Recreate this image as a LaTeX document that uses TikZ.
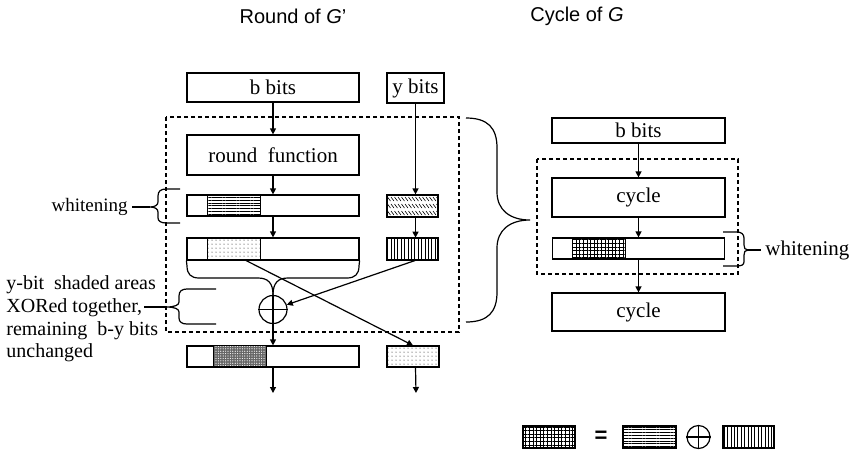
\documentclass[tikz,border=0pt]{standalone}
\usepackage{fontspec}
\setmainfont{Liberation Serif}
\setsansfont{Liberation Sans}
\usetikzlibrary{arrows.meta,patterns.meta}
\tikzset{
  bitbox/.style={draw, line width=0.6pt, inner sep=0pt, font=\fontsize{10.5}{12}\selectfont},
  flow/.style={line width=0.6pt, -{Triangle[length=3pt,width=3pt]}},
  shade/.style={draw, line width=0.5pt},
  frame/.style={line width=0.6pt, dash pattern=on 2pt off 1.5pt},
  title/.style={font=\sffamily\fontsize{10}{12}\selectfont},
  xorsign/.style={circle, draw, line width=0.6pt, inner sep=0pt},
}
\begin{document}
\begin{tikzpicture}[x=0.5pt,y=-0.5pt]
\useasboundingbox (0,0) rectangle (851,452);

\node[title] (ttl1) at (293,16) {Round of \textit{G}’};
\node[title] (ttl2) at (577,16) {Cycle of \textit{G}};

% round of G'
\node[bitbox, minimum width=86pt, minimum height=14.5pt] (bb) at (273,87.5) {b bits};
\node[bitbox, minimum width=28.5pt, minimum height=15pt] (yb) at (415.5,88) {y bits};
\node[bitbox, minimum width=86pt, minimum height=20pt] (rf) at (273,155) {round\ \ function};
\node[bitbox, minimum width=86pt, minimum height=10.5pt] (w1) at (273,205.5) {};
\node[bitbox, minimum width=25.5pt, minimum height=11pt] (hb) at (412.5,206) {};
\node[bitbox, minimum width=86pt, minimum height=11pt] (w2) at (273,249) {};
\node[bitbox, pattern={Lines[angle=90,distance=1.7pt,line width=0.35pt]}, minimum width=25.5pt, minimum height=11pt] (vb) at (412.5,249) {};
\node[xorsign, minimum size=14pt] (xor) at (273,309.5) {};
\node[bitbox, minimum width=86pt, minimum height=10.5pt] (out1) at (273,356.5) {};
\node[bitbox, pattern={Dots[distance=2pt,radius=0.25pt]}, minimum width=26pt, minimum height=10.5pt] (out2) at (413,356.5) {};
\coordinate (e1) at (273,393);
\coordinate (e2) at (416,393);
\coordinate (dsrc) at (245,260);

\draw[shade, pattern={Lines[angle=0,distance=1.4pt,line width=0.3pt]}] (w1.north west) ++(21,0) rectangle ++(53,21);
\draw[shade, pattern={Dots[distance=2pt,radius=0.25pt]}] (w2.north west) ++(21,0) rectangle ++(53,22);
\fill[black!60] (out1.north west) ++(27,0) rectangle ++(53,21);
\draw[shade, pattern={Dots[distance=1.2pt,radius=0.3pt]}, pattern color=white] (out1.north west) ++(27,0) rectangle ++(53,21);
\begin{scope}
  \clip (hb.south west) rectangle (hb.north east);
  \foreach \r in {199,206,213}
    \foreach \c in {384,387.5,...,440}
      \draw[line width=0.3pt] (\c,\r-2) -- (\c+3,\r+2);
\end{scope}
\draw[line width=0.6pt] (xor.north) -- (xor.south) (xor.west) -- (xor.east);

\draw[frame] (166,117) rectangle (459,332);

\draw[flow] (bb) -- (rf);
\draw[flow] (rf) -- (w1);
\draw[flow] (w1) -- (w2);
\draw[flow] (yb.south) -- (yb.south |- hb.north);
\draw[flow] (yb.south |- hb.south) -- (yb.south |- vb.north);
\draw[line width=0.6pt] (w2.south west) -- (187,266) .. controls (187,274) and (191,278) .. (199,278) -- (258,278) .. controls (268,278) and (273,283) .. (xor.north);
\draw[line width=0.6pt] (w2.south east) -- (359,266) .. controls (359,274) and (355,278) .. (347,278) -- (288,278) .. controls (278,278) and (273,283) .. (xor.north);
\draw[flow] (yb.south |- vb.south) -- (xor);
\draw[flow] (dsrc) -- (out2.north);
\draw[flow] (xor) -- (out1);
\draw[flow] (out1) -- (e1);
\draw[flow] (yb.south |- out2.south) -- (e2);

% left labels
\node[anchor=east, inner sep=2pt, font=\fontsize{9.5}{11}\selectfont] (lw) at (132,207) {whitening};
\coordinate (lwt) at (150,207);
\draw[line width=0.6pt] (180,189) -- (166,189) .. controls (161,189) and (158,191) .. (158,196) -- (158,202) .. controls (158,205) and (155,207) .. (lwt) .. controls (155,207) and (158,209) .. (158,212) -- (158,218) .. controls (158,221) and (161,223) .. (166,223) -- (180,223);
\draw[line width=0.6pt] (lw) -- (lwt);

\node[anchor=west, align=left, inner sep=0pt, font=\fontsize{10}{11.3}\selectfont] (lx) at (6,319) {y-bit\ \ shaded areas\\XORed together,\\remaining\ \ b-y bits\\unchanged};
\coordinate (xs) at (144,307);
\coordinate (xt) at (166,307);
\draw[line width=0.6pt] (216,289) -- (187,289) .. controls (182,289) and (179,291) .. (179,296) -- (179,302) .. controls (179,305) and (175,307) .. (xt) .. controls (175,307) and (179,309) .. (179,312) -- (179,318) .. controls (179,322) and (182,324) .. (187,324) -- (216,324);
\draw[line width=0.6pt] (xs) -- (xt);

% big brace
\draw[line width=0.6pt] (466,118) .. controls (488,118) and (497,128) .. (497,148) -- (497,192) .. controls (497,210) and (510,220) .. (530,220) .. controls (510,220) and (497,230) .. (497,248) -- (497,292) .. controls (497,312) and (488,322) .. (466,322);

% cycle of G
\node[bitbox, minimum width=86.5pt, minimum height=12.5pt] (cb) at (638.5,130.5) {b bits};
\node[bitbox, minimum width=86.5pt, minimum height=19.5pt] (cy1) at (638.5,197.5) {cycle};
\node[bitbox, minimum width=86pt, minimum height=10.5pt] (cw) at (638.5,248.5) {};
\node[bitbox, minimum width=86.5pt, minimum height=19pt] (cy2) at (638.5,312) {cycle};
\draw[shade, pattern={Hatch[distance=1.8pt,line width=0.3pt]}] (cw.north west) ++(21,0) rectangle ++(53,21);
\draw[frame] (537,159) rectangle (738,274);
\draw[flow] (cb) -- (cy1);
\draw[flow] (cy1) -- (cw);
\draw[flow] (cw) -- (cy2);

\node[anchor=west, inner sep=2pt, font=\fontsize{10.5}{12}\selectfont] (rw) at (761,250) {whitening};
\coordinate (rwt) at (748,250);
\draw[line width=0.6pt] (723,232) -- (737,232) .. controls (741,232) and (744,234) .. (744,238) -- (744,245) .. controls (744,248) and (745,250) .. (rwt) .. controls (745,250) and (744,252) .. (744,255) -- (744,262) .. controls (744,265) and (741,266) .. (737,266) -- (723,266);
\draw[line width=0.6pt] (rwt) -- (rw);

% legend
\node[bitbox, pattern={Hatch[distance=1.8pt,line width=0.3pt]}, minimum width=26pt, minimum height=11pt] (lg1) at (549,437) {};
\node[font=\sffamily\bfseries\fontsize{11}{12}\selectfont] (lgeq) at (601,437) {=};
\node[bitbox, pattern={Lines[angle=0,distance=1.4pt,line width=0.3pt]}, minimum width=26.5pt, minimum height=11pt] (lg2) at (649.5,437) {};
\node[xorsign, minimum size=11.5pt] (lgx) at (698.5,437) {};
\draw[line width=0.6pt] (lgx.north) -- (lgx.south) (lgx.west) -- (lgx.east);
\node[bitbox, pattern={Lines[angle=90,distance=1.7pt,line width=0.35pt]}, minimum width=25.5pt, minimum height=11pt] (lg3) at (748.5,437) {};
\end{tikzpicture}
\end{document}
